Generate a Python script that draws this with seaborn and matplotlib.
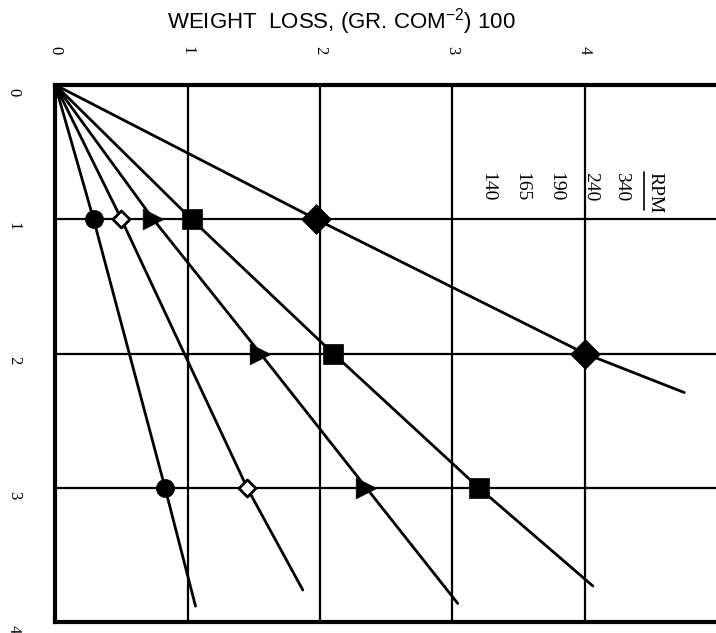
import numpy as np
import pandas as pd
import matplotlib
matplotlib.use("Agg")
import matplotlib.pyplot as plt
import matplotlib.transforms as mtransforms
import seaborn as sns

# -----------------------------
# Data
# -----------------------------

rpm_labels = ['340', '240', '190', '165', '140']

# measured points: time (h) and weight loss
time_340 = [1, 2]
loss_340 = [1.97, 4.0]
time_240 = [1, 2, 3]
loss_240 = [1.03, 2.10, 3.20]
time_190 = [1, 2, 3]
loss_190 = [0.74, 1.55, 2.35]
time_165 = [1, 3]
loss_165 = [0.50, 1.45]
time_140 = [1, 3]
loss_140 = [0.29, 0.83]

# where each drawn line stops (time, loss)
end_time = [2.29, 3.73, 3.86, 3.76, 3.88]
end_loss = [4.75, 4.06, 3.04, 1.87, 1.06]

x_ticks = [0, 1, 2, 3, 4]
y_ticks = [0, 1, 2, 3, 4]

# -----------------------------
# Build tables
# -----------------------------

series = [
    (time_340, loss_340),
    (time_240, loss_240),
    (time_190, loss_190),
    (time_165, loss_165),
    (time_140, loss_140),
]

pts = []
lines = []
for i, (t, w) in enumerate(series):
    for a, b in zip(t, w):
        pts.append({'rpm': rpm_labels[i], 'time': a, 'loss': b})
    lines.append(pd.DataFrame({
        'time': [0] + list(t) + [end_time[i]],
        'loss': [0] + list(w) + [end_loss[i]],
    }))
df_pts = pd.DataFrame(pts)

marker_map = {'340': 'D', '240': 's', '190': '>', '165': 'D', '140': 'o'}
size_map = {'340': 230, '240': 200, '190': 220, '165': 75, '140': 170}
face_map = {'340': 'black', '240': 'black', '190': 'black', '165': 'white', '140': 'black'}

# -----------------------------
# Plot
# -----------------------------

sns.set_style('white')
plt.rcParams['font.family'] = ['Liberation Serif', 'DejaVu Serif']
plt.rcParams['text.color'] = 'black'
plt.rcParams['xtick.color'] = 'black'
plt.rcParams['ytick.color'] = 'black'

fig = plt.figure(figsize=(7.16, 6.33), dpi=100)
ax = fig.add_axes([0.077, 0.017, 0.923, 0.849])

for g in [1, 2, 3, 4]:
    ax.axvline(g, color='black', lw=1.6, zorder=1)
for g in [1, 2, 3]:
    ax.axhline(g, color='black', lw=1.6, zorder=1)

for df_line in lines:
    sns.lineplot(data=df_line, x='loss', y='time', color='black',
                 lw=2.0, sort=False, ax=ax, zorder=2)

for r in rpm_labels:
    sub = df_pts[df_pts['rpm'] == r]
    sns.scatterplot(data=sub, x='loss', y='time', marker=marker_map[r],
                    s=size_map[r], color=face_map[r], edgecolor='black',
                    linewidth=2.0 if r == '165' else 0.5, ax=ax, zorder=3)

ax.set_xlim(0, 4.99)
ax.set_ylim(4, 0)
ax.set_xticks(x_ticks)
ax.set_yticks(y_ticks)
ax.xaxis.tick_top()
ax.tick_params(axis='both', length=0, labelsize=12, labelcolor='black')
ax.tick_params(axis='x', pad=22, labelrotation=-90)
ax.tick_params(axis='y', pad=24, labelrotation=-90)
ax.set_xlabel('')
ax.set_ylabel('')

offset = mtransforms.ScaledTranslation(0, -7 / 100, fig.dpi_scale_trans)
for lab in ax.get_yticklabels():
    lab.set_transform(lab.get_transform() + offset)
    lab.set_verticalalignment('center')

for side in ['top', 'left', 'bottom']:
    ax.spines[side].set_linewidth(3)
    ax.spines[side].set_color('black')
ax.spines['right'].set_visible(False)

# legend written as rotated text
legend_x = [4.28, 4.04, 3.78, 3.52, 3.27]
ax.text(4.53, 0.65, 'RPM', rotation=-90, ha='center', va='top', fontsize=14)
ax.plot([4.45, 4.45], [0.65, 0.93], color='black', lw=1.2)
for xv, r in zip(legend_x, rpm_labels):
    ax.text(xv, 0.65, r, rotation=-90, ha='center', va='top', fontsize=14)

fig.text(341 / 716, 1 - 22 / 633, r'WEIGHT  LOSS, (GR. COM$^{\mathregular{-2}}$) 100',
         ha='center', va='center', fontsize=16, color='black',
         family=['Liberation Sans', 'DejaVu Sans'])

plt.savefig('out.png', dpi=100)
